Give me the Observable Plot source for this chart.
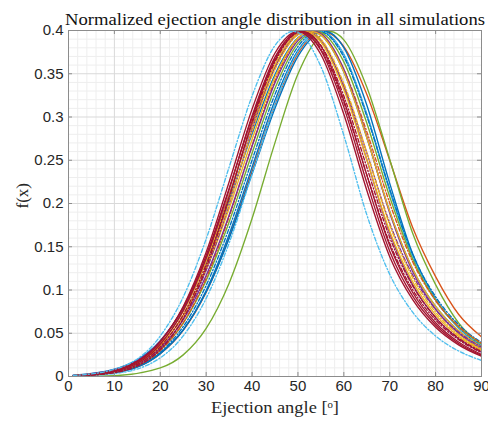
<!DOCTYPE html>
<html><head><meta charset="utf-8">
<script src="https://cdn.jsdelivr.net/npm/d3@7"></script>
<script src="https://cdn.jsdelivr.net/npm/@observablehq/plot@0.6"></script>
<style>body{margin:0;background:#fff}#chart svg{display:block}</style>
</head><body><div id="chart"></div>
<script>
// ---- data ----
const title = "Normalized ejection angle distribution in all simulations";
const xLabel = "Ejection angle [\u1D52]";
const yLabel = "f(x)";
const xTicks = [0,10,20,30,40,50,60,70,80,90];
const yTicks = [0,0.05,0.1,0.15,0.2,0.25,0.3,0.35,0.4];
const xMinor = [2,4,6,8,12,14,16,18,22,24,26,28,32,34,36,38,42,44,46,48,52,54,56,58,62,64,66,68,72,74,76,78,82,84,86,88];
const yMinor = [0.01,0.02,0.03,0.04,0.06,0.07,0.08,0.09,0.11,0.12,0.13,0.14,0.16,0.17,0.18,0.19,0.21,0.22,0.23,0.24,0.26,0.27,0.28,0.29,0.31,0.32,0.33,0.34,0.36,0.37,0.38,0.39];
// sample angles (deg) shared by all simulations
const xGrid = [1,10,20,25,30,35,40,45,50,55,60,65,70,75,80,85,90];
const peakValue = 0.3989;
const seriesNames = ["sim1","sim2","sim3","sim4","sim5","sim6","sim7","sim8","sim9","sim10","sim11","sim12","sim13","sim14","sim15","sim16","sim17","sim18","sim19","sim20","sim21"];
const peaks = [49,50.5,51,51,51.5,52,51.5,52,53,54,53,54.5,55,55,56,57,55.5,50,53,53.5,50.5];
const sim1  = [0.0011,0.0082,0.0468,0.0919,0.1590,0.2420,0.3242,0.3827,0.3977,0.3583,0.2788,0.1871,0.1181,0.0744,0.0468,0.0295,0.0186];
const sim2  = [0.0008,0.0061,0.0373,0.0762,0.1368,0.2162,0.3011,0.3692,0.3987,0.3770,0.3114,0.2242,0.1449,0.0928,0.0596,0.0382,0.0245];
const sim3  = [0.0010,0.0073,0.0405,0.0800,0.1400,0.2172,0.2991,0.3660,0.3980,0.3818,0.3193,0.2331,0.1514,0.0971,0.0622,0.0399,0.0256];
const sim4  = [0.0007,0.0055,0.0343,0.0714,0.1295,0.2077,0.2930,0.3637,0.3979,0.3827,0.3242,0.2420,0.1608,0.1048,0.0682,0.0445,0.0290];
const sim5  = [0.0009,0.0067,0.0378,0.0752,0.1329,0.2089,0.2913,0.3605,0.3968,0.3867,0.3317,0.2507,0.1678,0.1094,0.0712,0.0464,0.0302];
const sim6  = [0.0008,0.0061,0.0349,0.0707,0.1263,0.2006,0.2831,0.3549,0.3952,0.3898,0.3387,0.2591,0.1752,0.1142,0.0744,0.0484,0.0316];
const sim7  = [0.0006,0.0050,0.0317,0.0665,0.1228,0.1990,0.2847,0.3579,0.3966,0.3875,0.3359,0.2586,0.1773,0.1172,0.0775,0.0513,0.0339];
const sim8  = [0.0012,0.0079,0.0409,0.0790,0.1362,0.2101,0.2897,0.3575,0.3954,0.3892,0.3347,0.2509,0.1655,0.1062,0.0680,0.0436,0.0280];
const sim9  = [0.0006,0.0050,0.0300,0.0620,0.1135,0.1846,0.2668,0.3423,0.3904,0.3952,0.3549,0.2831,0.2006,0.1327,0.0878,0.0580,0.0384];
const sim10 = [0.0008,0.0054,0.0305,0.0616,0.1109,0.1787,0.2581,0.3332,0.3851,0.3979,0.3637,0.2930,0.2077,0.1355,0.0882,0.0575,0.0375];
const sim11 = [0.0014,0.0085,0.0413,0.0781,0.1327,0.2032,0.2805,0.3492,0.3915,0.3949,0.3521,0.2763,0.1909,0.1243,0.0810,0.0528,0.0344];
const sim12 = [0.0007,0.0050,0.0283,0.0577,0.1053,0.1714,0.2500,0.3263,0.3814,0.3987,0.3694,0.3011,0.2163,0.1414,0.0922,0.0600,0.0391];
const sim13 = [0.0004,0.0033,0.0216,0.0470,0.0903,0.1542,0.2338,0.3144,0.3755,0.3989,0.3722,0.3031,0.2153,0.1385,0.0888,0.0569,0.0366];
const sim14 = [0.0006,0.0044,0.0264,0.0540,0.0995,0.1641,0.2420,0.3193,0.3770,0.3989,0.3722,0.3031,0.2153,0.1385,0.0888,0.0569,0.0366];
const sim15 = [0.0007,0.0049,0.0270,0.0540,0.0977,0.1595,0.2343,0.3101,0.3700,0.3981,0.3803,0.3139,0.2233,0.1419,0.0895,0.0564,0.0355];
const sim16 = [0.0001,0.0010,0.0099,0.0250,0.0556,0.1079,0.1826,0.2704,0.3497,0.3946,0.3892,0.3347,0.2509,0.1655,0.1062,0.0620,0.0360];
const sim17 = [0.0006,0.0045,0.0262,0.0533,0.0975,0.1608,0.2372,0.3142,0.3734,0.3987,0.3814,0.3263,0.2500,0.1722,0.1155,0.0720,0.0460];
const sim18 = [0.0009,0.0068,0.0401,0.0810,0.1436,0.2249,0.3091,0.3740,0.3989,0.3722,0.3031,0.2153,0.1385,0.0888,0.0569,0.0366,0.0234];
const sim19 = [0.0010,0.0066,0.0355,0.0700,0.1233,0.1942,0.2740,0.3462,0.3910,0.3949,0.3521,0.2763,0.1909,0.1243,0.0810,0.0528,0.0344];
const sim20 = [0.0009,0.0060,0.0329,0.0656,0.1168,0.1865,0.2661,0.3395,0.3883,0.3965,0.3552,0.2774,0.1890,0.1213,0.0778,0.0499,0.0320];
const sim21 = [0.0005,0.0044,0.0311,0.0670,0.1259,0.2065,0.2948,0.3672,0.3986,0.3787,0.3168,0.2333,0.1541,0.1004,0.0654,0.0426,0.0277];
const seriesValues = [sim1,sim2,sim3,sim4,sim5,sim6,sim7,sim8,sim9,sim10,sim11,sim12,sim13,sim14,sim15,sim16,sim17,sim18,sim19,sim20,sim21];

// ---- styling (MATLAB default colour order) ----
const C = {blue:"#0072BD", orange:"#D95319", yellow:"#EDB120", purple:"#7E2F8E", green:"#77AC30", lightblue:"#4DBEEE", darkred:"#A2142F"};
const seriesColor = [C.lightblue,C.darkred,C.darkred,C.darkred,C.yellow,C.yellow,C.purple,C.purple,C.orange,C.green,C.blue,C.blue,C.lightblue,C.blue,C.blue,C.green,C.orange,C.darkred,C.yellow,C.purple,C.darkred];
const seriesDash = [true,false,false,true,false,true,true,false,true,false,false,true,true,false,false,false,false,false,false,false,true];
const drawOrder = [16,15,14,13,12,11,10,9,8,19,18,6,7,5,4,20,3,2,1,17,0];

function seriesRows(i) {
  const pts = xGrid.map((x, j) => ({x, y: seriesValues[i][j]}));
  if (!xGrid.includes(peaks[i])) pts.push({x: peaks[i], y: peakValue});
  return pts.sort((a, b) => a.x - b.x);
}

const W = 488, H = 427, mL = 68, mR = 7, mT = 30, mB = 51;
const fh = H - mT - mB, fw = W - mL - mR;
const tick = 4;
const serif = "'Liberation Serif', 'DejaVu Serif', serif";
const sans = "'Liberation Sans', Arial, sans-serif";
const axisGray = "#8c8c8c";

const lineMarks = drawOrder.map(i => Plot.line(seriesRows(i), {
  x: "x", y: "y", stroke: seriesColor[i], strokeWidth: 1.35,
  curve: "monotone-x", clip: true,
  strokeDasharray: seriesDash[i] ? "4,2,1.2,2" : undefined
}));

const chart = Plot.plot({
  width: W, height: H,
  marginLeft: mL, marginRight: mR, marginTop: mT, marginBottom: mB,
  style: {background: "#fff", color: "#262626", fontFamily: sans, fontSize: "14px"},
  x: {domain: [0, 90], label: null},
  y: {domain: [0, 0.4], label: null},
  marks: [
    Plot.ruleX(xMinor, {stroke: "#eeeeee", strokeWidth: 1}),
    Plot.ruleY(yMinor, {stroke: "#eeeeee", strokeWidth: 1}),
    Plot.ruleX(xTicks, {stroke: "#d9d9d9", strokeWidth: 1}),
    Plot.ruleY(yTicks, {stroke: "#d9d9d9", strokeWidth: 1}),
    ...lineMarks,
    Plot.frame({stroke: axisGray, strokeWidth: 1}),
    Plot.tickX(xTicks, {x: d => d, stroke: axisGray, insetTop: fh - tick}),
    Plot.tickX(xTicks, {x: d => d, stroke: axisGray, insetBottom: fh - tick}),
    Plot.tickY(yTicks, {y: d => d, stroke: axisGray, insetRight: fw - tick}),
    Plot.tickY(yTicks, {y: d => d, stroke: axisGray, insetLeft: fw - tick}),
    Plot.axisX({ticks: xTicks, tickSize: 0, tickPadding: 4, fontSize: 15, tickFormat: d => String(d)}),
    Plot.axisY({ticks: yTicks, tickSize: 0, tickPadding: 5, fontSize: 15, tickFormat: d => String(d)}),
    Plot.text([title], {text: d => d, frameAnchor: "top", dy: -18, fontSize: 17, fontFamily: serif, fill: "#111"}),
    Plot.text([xLabel], {text: d => d, frameAnchor: "bottom", dy: 36, fontSize: 17, fontFamily: serif, fill: "#262626"}),
    Plot.text([yLabel], {text: d => d, frameAnchor: "left", dx: -46, dy: 5, rotate: -90, fontSize: 17, fontFamily: serif, fill: "#262626"})
  ]
});
// stretch serif labels to the reference widths
chart.querySelectorAll("text").forEach(t => {
  if (t.textContent === title) { t.setAttribute("textLength", 420); t.setAttribute("lengthAdjust", "spacingAndGlyphs"); }
  if (t.textContent === xLabel) { t.setAttribute("textLength", 128); t.setAttribute("lengthAdjust", "spacingAndGlyphs"); }
});
document.getElementById("chart").appendChild(chart);
</script>
</body></html>
